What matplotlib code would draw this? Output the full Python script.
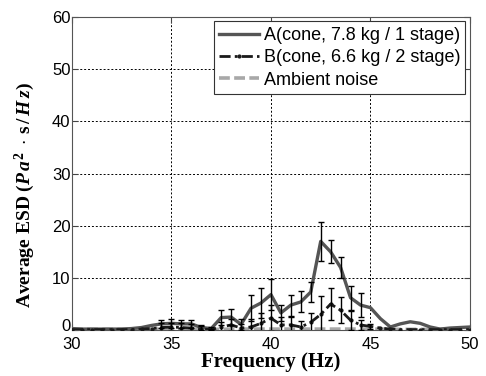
import matplotlib
matplotlib.use("Agg")
import matplotlib.pyplot as plt
import matplotlib.transforms as mtransforms
import numpy as np

plt.rcParams['font.family'] = ['Liberation Sans', 'DejaVu Sans']
plt.rcParams['mathtext.fontset'] = 'custom'
plt.rcParams['mathtext.it'] = 'Liberation Serif:italic:bold'
plt.rcParams['mathtext.rm'] = 'Liberation Serif:bold'
plt.rcParams['mathtext.bf'] = 'Liberation Serif:bold'

# frequency points (Hz)
freq = [30, 30.5, 31, 31.5, 32, 32.5, 33, 33.5, 34, 34.5,
        35, 35.5, 36, 36.5, 37, 37.5, 38, 38.5, 39, 39.5,
        40, 40.5, 41, 41.5, 42, 42.5, 43, 43.5, 44, 44.5,
        45, 45.5, 46, 46.5, 47, 47.5, 48, 48.5, 49, 49.5, 50]

esd_a = [0.3, 0.2, 0.2, 0.2, 0.2, 0.2, 0.3, 0.5, 0.9, 1.2,
         1.3, 1.2, 1.2, 0.5, 0.3, 2.4, 2.5, 1.1, 4.2, 5.2,
         6.8, 3.3, 4.8, 5.4, 7.3, 17.0, 15.0, 12.0, 6.2, 4.8,
         4.3, 2.2, 0.6, 1.2, 1.6, 1.3, 0.6, 0.2, 0.4, 0.5, 0.6]
err_a = [0, 0, 0, 0, 0, 0, 0, 0, 0, 0.8,
         0.8, 0.8, 0.8, 0.5, 0.3, 1.5, 1.5, 1.0, 2.5, 2.8,
         3.0, 1.5, 2.0, 2.0, 2.0, 3.8, 2.2, 2.0, 2.3, 2.3,
         0, 0, 0, 0, 0, 0, 0, 0, 0, 0, 0]

esd_b = [0.1, 0.1, 0.1, 0.1, 0.1, 0.1, 0.1, 0.2, 0.3, 0.5,
         0.6, 0.5, 0.4, 0.2, 0.1, 0.6, 1.0, 0.4, 0.6, 1.3,
         2.3, 1.0, 1.0, 0.6, 1.5, 3.0, 5.0, 3.8, 1.9, 1.0,
         0.7, 0.4, 0.2, 0.1, 0.1, 0.1, 0.1, 0.1, 0.1, 0.1, 0.1]
err_b = [0, 0, 0, 0, 0, 0, 0, 0, 0, 0.8,
         0.8, 0.8, 0.8, 0.5, 0.2, 1.0, 1.2, 0.8, 1.5, 2.0,
         2.5, 1.5, 1.5, 1.2, 1.8, 3.5, 3.0, 2.5, 1.8, 1.0,
         0.5, 0, 0, 0, 0, 0, 0, 0, 0, 0, 0]

ambient = [0.2, 0.2, 0.15, 0.15, 0.15, 0.15, 0.15, 0.15, 0.2, 0.2,
           0.2, 0.2, 0.2, 0.15, 0.15, 0.15, 0.2, 0.2, 0.2, 0.2,
           0.2, 0.2, 0.2, 0.2, 0.2, 0.2, 0.2, 0.2, 0.2, 0.2,
           0.2, 0.2, 0.15, 0.15, 0.15, 0.15, 0.15, 0.15, 0.2, 0.2, 0.2]

labels = ["A(cone, 7.8 kg / 1 stage)", "B(cone, 6.6 kg / 2 stage)", "Ambient noise"]

fig = plt.figure(figsize=(4.86, 3.76), dpi=100)
ax = fig.add_axes([0.148, 0.122, 0.819, 0.833])

f = np.array(freq)
ea, eb = np.array(err_a), np.array(err_b)
ma, mb = ea > 0, eb > 0

ax.plot(freq, ambient, color="#a8a8a8", lw=2.6, ls=(0, (3, 1.2)), label=labels[2], zorder=2)
ax.plot(freq, esd_a, color="#555555", lw=2.4, label=labels[0], zorder=3)
ax.plot(freq, esd_b, color="#1a1a1a", lw=2.0, ls=(0, (4, 1.5, 1, 1.5)),
        marker='.', ms=4, label=labels[1], zorder=4)
ax.errorbar(f[ma], np.array(esd_a)[ma], yerr=ea[ma], fmt='none', ecolor='k',
            elinewidth=1, capsize=2.5, capthick=1, zorder=5)
ax.errorbar(f[mb], np.array(esd_b)[mb], yerr=eb[mb], fmt='none', ecolor='k',
            elinewidth=1, capsize=2.5, capthick=1, zorder=5)

ax.set_xlim(30, 50)
ax.set_ylim(0, 60)
ax.set_xticks([30, 35, 40, 45, 50])
ax.set_yticks([0, 10, 20, 30, 40, 50, 60])
ax.tick_params(direction='in', labelsize=12, top=True, right=True, length=4,
               color='#444444', pad=1)
ax.tick_params(axis='x', pad=5)
ax.grid(True, color='k', ls=(0, (2, 2)), lw=0.7)
for s in ax.spines.values():
    s.set_color('#555555')

# nudge the "0" label up a bit so it sits just above the "30"
zero_lbl = ax.yaxis.get_major_ticks()[0].label1
zero_lbl.set_transform(zero_lbl.get_transform() +
                       mtransforms.ScaledTranslation(0, 4 / 72, fig.dpi_scale_trans))

ax.set_xlabel("Frequency (Hz)", family='Liberation Serif', fontweight='bold',
              fontsize=15, labelpad=0)
ax.set_ylabel(r"Average ESD ($P\,a^2\ \cdot\,$s$\,/\,H\,z$)", family='Liberation Serif',
              fontweight='bold', fontsize=14)
ax.yaxis.set_label_coords(-0.088, 0.43)

h, l = ax.get_legend_handles_labels()
order = [1, 2, 0]
leg = ax.legend([h[i] for i in order], [l[i] for i in order], loc='upper right',
                fontsize=13, fancybox=False, edgecolor='#333333', framealpha=1,
                borderaxespad=0.25, handlelength=2.2, handletextpad=0.25,
                labelspacing=0.3, borderpad=0.3)
leg.get_frame().set_linewidth(0.8)

fig.savefig("out.png", dpi=100)
